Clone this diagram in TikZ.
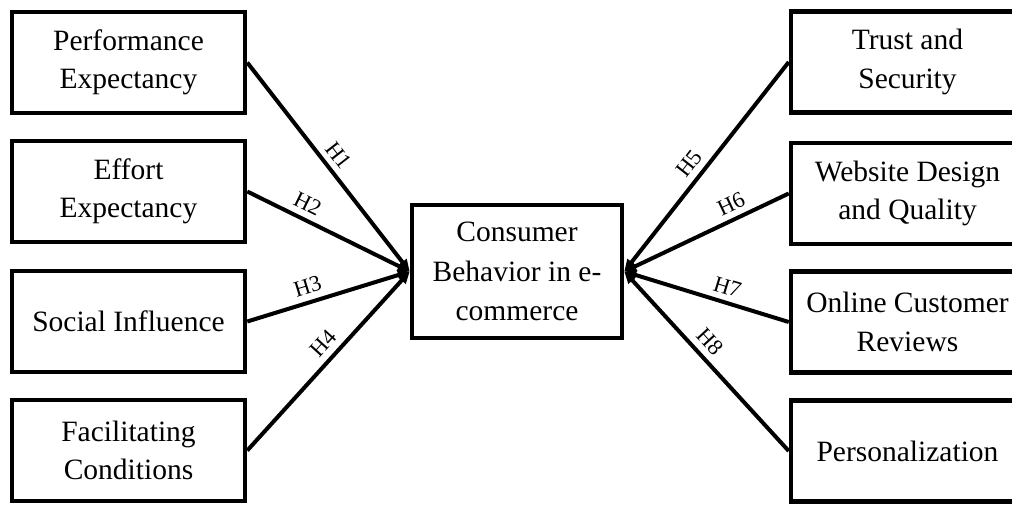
\documentclass[tikz,border=0pt]{standalone}
\usepackage{fontspec}
\setmainfont{Liberation Serif}
\usetikzlibrary{arrows.meta}
\begin{document}
\begin{tikzpicture}[x=1pt,y=-1pt,
  box/.style={draw, line width=4.5pt, minimum width=233pt, minimum height=101pt, align=center, inner sep=0pt, font=\fontsize{29.5}{38.5}\selectfont},
  cbox/.style={draw, line width=4.5pt, minimum width=210pt, minimum height=133pt, align=center, inner sep=0pt, font=\fontsize{29.5}{39.5}\selectfont},
  link/.style={line width=4pt, -{Triangle[length=12pt,width=10pt]}},
  hl/.style={sloped, above=6pt, font=\fontsize{22.5}{24}\selectfont, inner sep=0pt}]
\useasboundingbox (0,0) rectangle (1012,504);
\node[box] (L1) at (128.5,62.5) {Performance\\Expectancy};
\node[box] (L2) at (128.5,191.5) {Effort\\Expectancy};
\node[box] (L3) at (128.5,321.5) {Social Influence};
\node[box] (L4) at (128.5,450.5) {Facilitating\\Conditions};
\node[box] (R1) at (907.5,62) {Trust and\\Security};
\node[box] (R2) at (907.5,193.5) {Website Design\\and Quality};
\node[box] (R3) at (907.5,322) {Online Customer\\Reviews};
\node[box] (R4) at (907.5,451) {Personalization};
\node[cbox] (C) at (517,271.5) {Consumer\\Behavior in e-\\commerce};
\draw[link] (L1.east) -- node[hl, pos=0.49] {H1} (C.west);
\draw[link] (L2.east) -- node[hl, pos=0.33] {H2} (C.west);
\draw[link] (L3.east) -- node[hl, pos=0.40] {H3} (C.west);
\draw[link] (L4.east) -- node[hl, pos=0.54] {H4} (C.west);
\draw[link] (R1.west) -- node[hl, pos=0.53] {H5} (C.east);
\draw[link] (R2.west) -- node[hl, pos=0.31] {H6} (C.east);
\draw[link] (R3.west) -- node[hl, pos=0.40] {H7} (C.east);
\draw[link] (R4.west) -- node[hl, pos=0.55] {H8} (C.east);
\end{tikzpicture}
\end{document}
